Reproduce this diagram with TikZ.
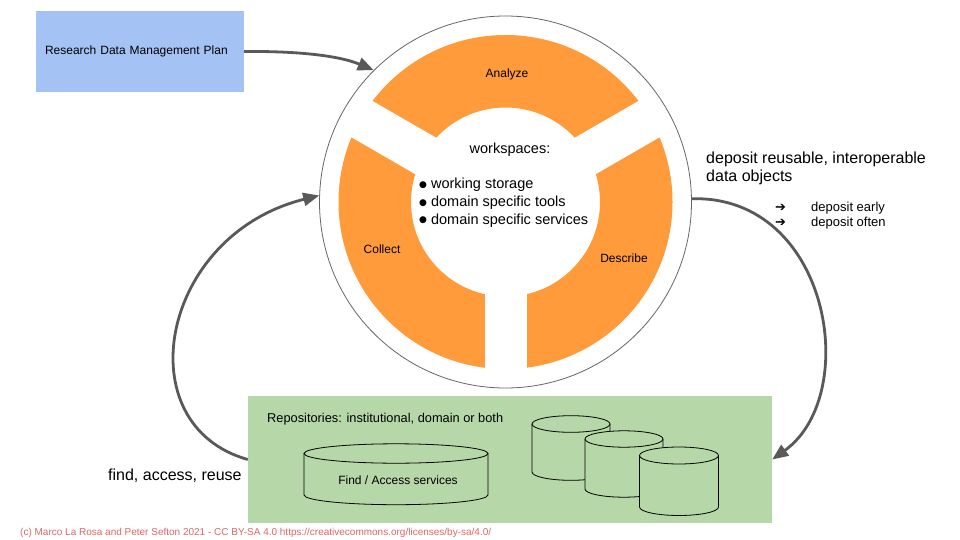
\documentclass[tikz,border=0pt]{standalone}
\usepackage{fontspec}
\setmainfont{Liberation Sans}
\newfontfamily\arrowfont{DejaVu Sans}
\usetikzlibrary{arrows.meta}
\definecolor{planblue}{HTML}{A4C2F4}
\definecolor{repogreen}{HTML}{B6D7A8}
\definecolor{ringorange}{HTML}{FF9B3B}
\definecolor{arrowgray}{HTML}{595959}
\definecolor{footred}{HTML}{E06666}
% #1 centre x, #2 top y, #3 bottom y, #4 half width, #5 ellipse height
\newcommand{\dbdrum}[5]{%
  \filldraw[drum] (#1-#4,#2) -- (#1-#4,#3) arc[start angle=180,end angle=0,x radius=#4,y radius=#5] -- (#1+#4,#2);
  \filldraw[drum] (#1,#2) ellipse[x radius=#4,y radius=#5];}

\begin{document}
\begin{tikzpicture}[x=1pt,y=-1pt,
   flow/.style={draw=arrowgray,line width=2.8pt,-{Triangle[length=16pt,width=13pt]}},
   drum/.style={draw=black,fill=repogreen,line width=0.8pt},
   lbl/.style={font=\fontsize{12}{14}\selectfont,inner sep=0pt},
   big/.style={font=\fontsize{16}{18}\selectfont,inner sep=0pt,anchor=base west},
   ws/.style={font=\fontsize{14.5}{17}\selectfont,inner sep=0pt}]
\useasboundingbox[fill=white] (0,0) rectangle (960,540);

% plan and repositories
\node[fill=planblue,lbl,text width=190pt,inner xsep=9pt,minimum height=81pt,align=left] (plan) at (140,51.5) {Research Data Management Plan};
\node[fill=repogreen,minimum width=524pt,minimum height=127pt] (repo) at (510,459.5) {};
\node[lbl,font=\fontsize{12.8}{14}\selectfont,anchor=base west] (repotitle) at (267,422) {Repositories: institutional, domain or both};
\dbdrum{396}{453.5}{495}{92}{9.7}
\node[lbl] (find) at (398,480) {Find / Access services};
\dbdrum{571}{424}{472}{39}{8.3}
\dbdrum{624}{439}{489}{39}{8.2}
\dbdrum{679}{455.5}{507}{39.5}{8.5}

% the cycle
\node[draw=black!60,line width=0.8pt,circle,minimum size=372pt] (cycle) at (505.5,202) {};
\fill[ringorange,even odd rule] (cycle.center) circle (167) circle (94.5);
\foreach \a in {90,210,330}
  \draw[white,line width=42pt] (cycle.center) -- ++(\a:172);
\node[lbl] (analyze) at (507,74) {Analyze};
\node[lbl] (collect) at (382,249) {Collect};
\node[lbl] (describe) at (624,258) {Describe};

\node[ws] (workspaces) at (510,150) {workspaces:};
\foreach \txt [count=\i] in {working storage,domain specific tools,domain specific services}
  \node[ws,anchor=base west] (item\i) at (419,171.4+17.6*\i)
    {\raisebox{1.3pt}{\arrowfont\fontsize{9}{9}\selectfont ●}\ \txt};

% texts beside the arrows
\node[big] (deposit1) at (706,164) {deposit reusable, interoperable};
\node[big] (deposit2) at (706,182) {data objects};
\foreach \txt [count=\i] in {deposit early,deposit often}
  \node[font=\fontsize{13}{15}\selectfont,inner sep=0pt,anchor=base west] (tip\i) at (775,196+15.3*\i)
    {\makebox[36pt][l]{\arrowfont ➔}\txt};
\node[big] (reuse) at (108,480) {find, access, reuse};

% arrows
\draw[flow] (plan.east) .. controls (300,51) and (340,56) .. (cycle.135);
\draw[flow] (cycle.1.5) .. controls (830,195) and (862,395) .. (repo.east);
\draw[flow] (repo.west) .. controls (125,425) and (160,235) .. (cycle.178.5);

\node[font=\fontsize{10}{12}\selectfont,text=footred,inner sep=0pt,anchor=base west] (credit) at (20,535)
  {(c) Marco La Rosa and Peter Sefton 2021 - CC BY-SA 4.0 https://creativecommons.org/licenses/by-sa/4.0/};
\end{tikzpicture}
\end{document}
